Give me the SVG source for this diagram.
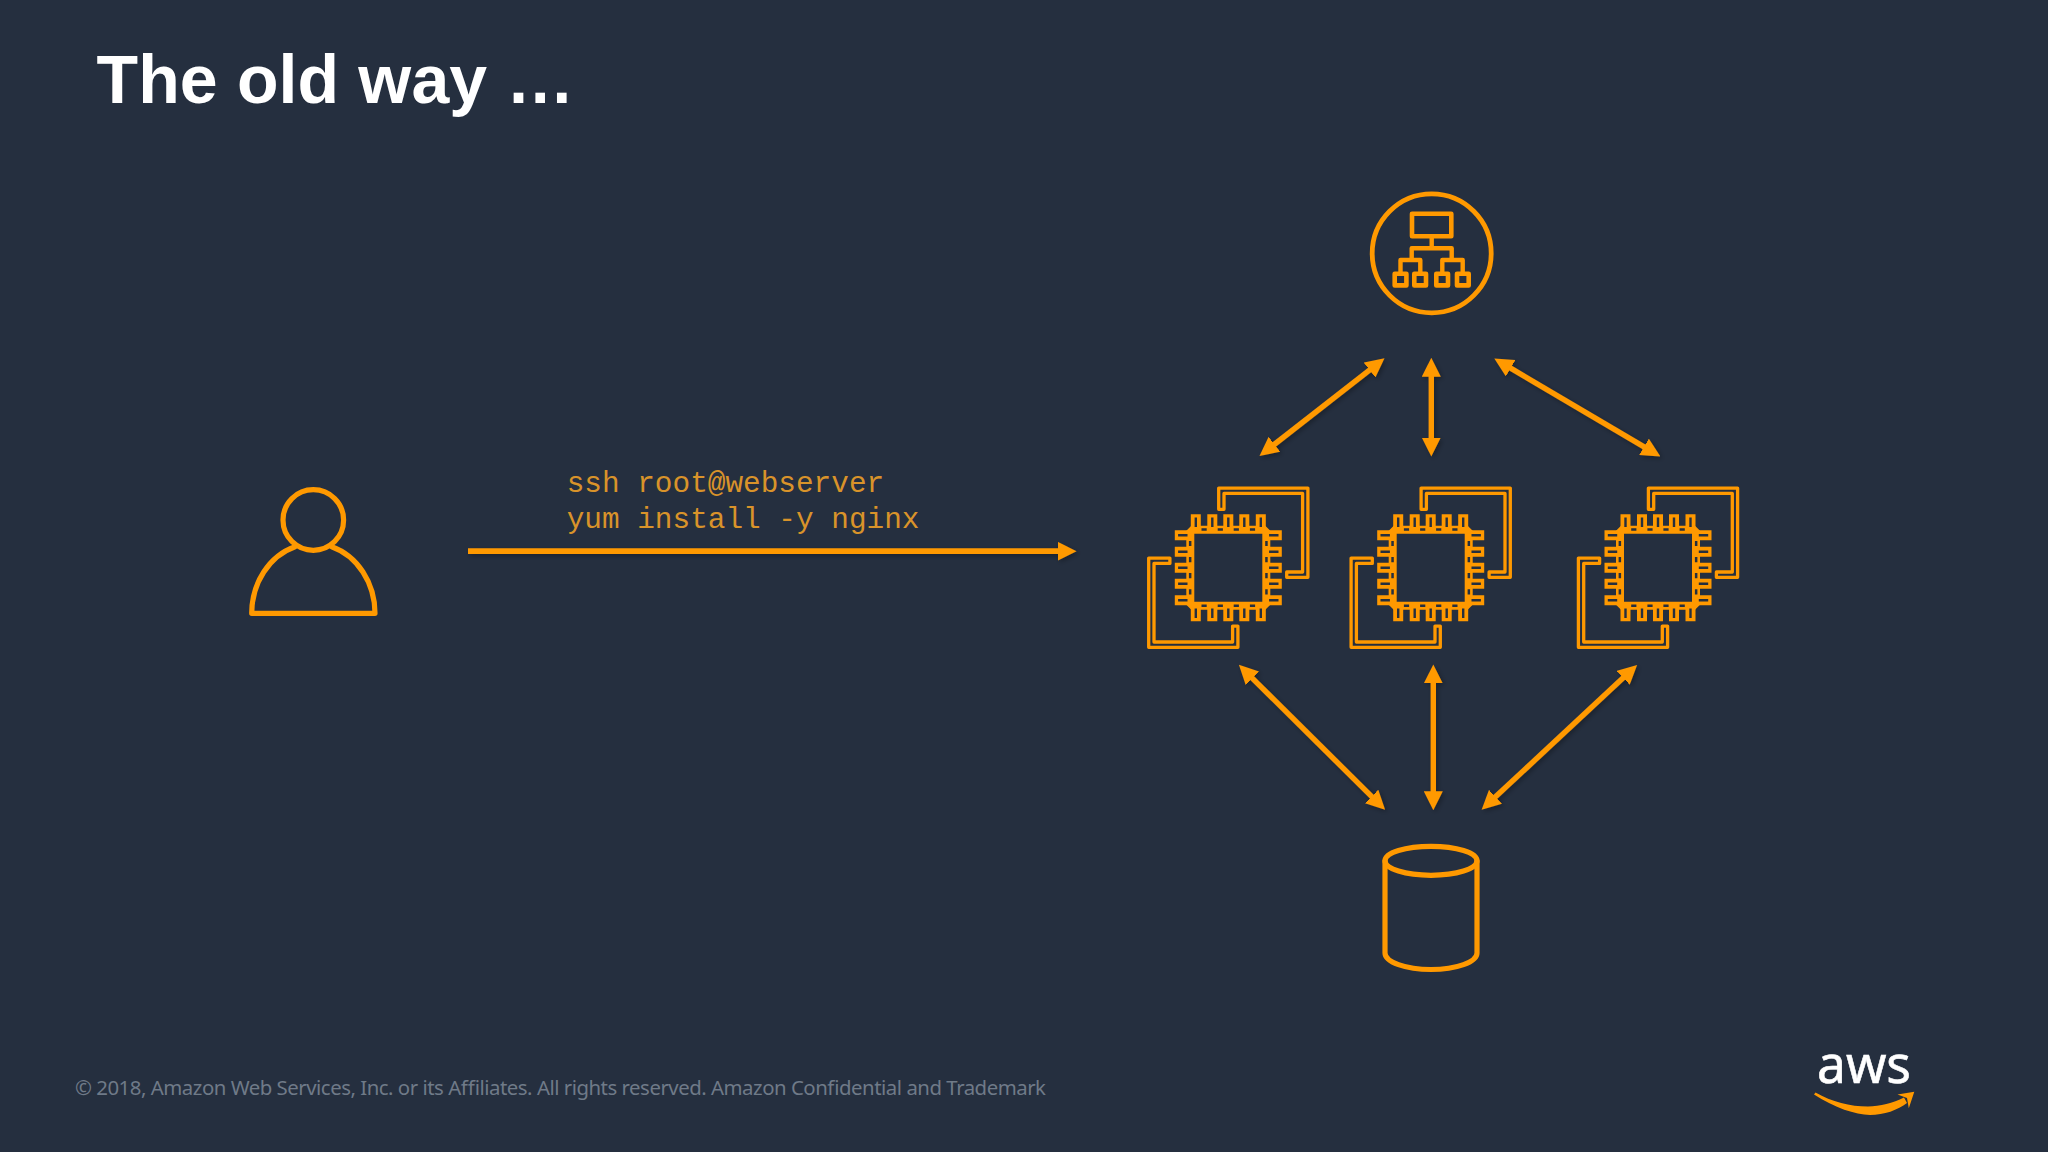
<svg xmlns="http://www.w3.org/2000/svg" width="2048" height="1152" viewBox="0 0 2048 1152">
  <style>
    .ln { fill: none; stroke: #ff9900; stroke-linejoin: round; stroke-linecap: round; }
    .or { fill: #ff9900; }
    .bg { fill: #252f3f; }
    .conn line { stroke: #ff9900; stroke-width: 5.4; marker-start: url(#head); marker-end: url(#head); }
    .code { font-family: "Liberation Mono", monospace; font-size: 29.4px; fill: #d9932a; }
  </style>
  <defs>
    <marker id="head" markerUnits="userSpaceOnUse" viewBox="0 0 18 18" markerWidth="19" markerHeight="19" refX="8" refY="9" orient="auto-start-reverse">
      <path d="M0 0L18 9L0 18Z" fill="#ff9900"/>
    </marker>
    <marker id="headEnd" markerUnits="userSpaceOnUse" viewBox="0 0 18 18" markerWidth="19" markerHeight="19" refX="8" refY="9" orient="auto">
      <path d="M0 0L18 9L0 18Z" fill="#ff9900"/>
    </marker>
    <filter id="shadow" x="-10%" y="-10%" width="120%" height="120%">
      <feDropShadow dx="2" dy="2" stdDeviation="2.5" flood-color="#000" flood-opacity="0.3"/>
    </filter>
    <g id="pins">
      <path class="or" d="M-37.5 -53.5h10v13.5h-10zM-21 -53.5h10v13.5h-10zM-5 -53.5h10v13.5h-10zM11 -53.5h10v13.5h-10zM27.5 -53.5h10v13.5h-10z"/>
      <path class="bg" d="M-33.7 -50.2h2.4v9.4h-2.4zM-17.2 -50.2h2.4v9.4h-2.4zM-1.2 -50.2h2.4v9.4h-2.4zM14.8 -50.2h2.4v9.4h-2.4zM31.3 -50.2h2.4v9.4h-2.4z"/>
      <path class="bg" d="M-26.8 -39.4h5.2v2.5h-5.2zM-10.6 -39.4h5.2v2.5h-5.2zM5.4 -39.4h5.2v2.5h-5.2zM21.6 -39.4h5.2v2.5h-5.2z"/>
    </g>
    <g id="ec2">
      <path class="or" fill-rule="evenodd" d="M-37 -42H37L42 -37V37L37 42H-37L-42 37V-37ZM-34 -34V34H34V-34Z"/>
      <use href="#pins"/>
      <use href="#pins" transform="rotate(90)"/>
      <use href="#pins" transform="rotate(180)"/>
      <use href="#pins" transform="rotate(270)"/>
      <path class="ln" stroke-width="3.3" d="M-9.6 -58.4V-79.6H79.6V9.6H58.4V4.3H74.3V-74.3H-4.3V-58.4Z"/>
      <path class="ln" stroke-width="3.3" transform="rotate(180)" d="M-9.6 -58.4V-79.6H79.6V9.6H58.4V4.3H74.3V-74.3H-4.3V-58.4Z"/>
    </g>
  </defs>

  <rect id="background" width="2048" height="1152" fill="#252f3f"/>

  <text id="title" x="96.5" y="102.7" font-family="'Liberation Sans', Arial, sans-serif" font-weight="700" font-size="68" letter-spacing="0.15" fill="#ffffff">The old way …</text>

  <g id="person">
    <circle class="ln" stroke-width="5.2" cx="313.3" cy="520" r="30.3"/>
    <path class="ln" stroke-width="5.2" d="M295 546.7A61.7 70 0 0 0 251.7 613.3H375A61.7 70 0 0 0 331.7 546.7"/>
  </g>

  <g id="commands">
    <text class="code" x="566.7" y="492.3">ssh root@webserver</text>
    <text class="code" x="566.7" y="527.7">yum install -y nginx</text>
  </g>

  <g id="load-balancer">
    <circle class="ln" stroke-width="4.8" cx="1431.7" cy="253.3" r="59.5"/>
    <rect class="ln" stroke-width="4.6" x="1412" y="213.7" width="39.3" height="22.6"/>
    <path class="ln" stroke-width="4.4" d="M1431.7 238V248.3M1411.7 260V248.3H1451.7V260M1400.5 271.7V260H1420.3V271.7M1442.3 271.7V260H1462.7V271.7"/>
    <rect class="ln" stroke-width="4.6" x="1394.7" y="273.7" width="11.7" height="11.7"/>
    <rect class="ln" stroke-width="4.6" x="1414.3" y="273.7" width="11.7" height="11.7"/>
    <rect class="ln" stroke-width="4.6" x="1436.3" y="273.7" width="11.7" height="11.7"/>
    <rect class="ln" stroke-width="4.6" x="1457" y="273.7" width="11.7" height="11.7"/>
  </g>

  <g id="ec2-1" transform="translate(1228.3 567.7)"><use href="#ec2"/></g>
  <g id="ec2-2" transform="translate(1430.7 567.7)"><use href="#ec2"/></g>
  <g id="ec2-3" transform="translate(1658 567.7)"><use href="#ec2"/></g>

  <g id="database">
    <ellipse class="ln" stroke-width="5.2" cx="1431" cy="860.8" rx="46" ry="14.5"/>
    <path class="ln" stroke-width="5.2" d="M1385 861V953A46 16.5 0 0 0 1477 953V861"/>
  </g>

  <g id="connectors" class="conn" filter="url(#shadow)">
    <line x1="1267.8" y1="449.5" x2="1376.2" y2="364.8"/>
    <line x1="1431.3" y1="368.3" x2="1431.3" y2="446"/>
    <line x1="1503.4" y1="363.9" x2="1651.3" y2="451.1"/>
    <line x1="1246.4" y1="672.3" x2="1377.6" y2="802.4"/>
    <line x1="1433.3" y1="675" x2="1433.3" y2="799.7"/>
    <line x1="1629.4" y1="672.1" x2="1489.3" y2="802.6"/>
    <line x1="468" y1="551.2" x2="1066" y2="551.2" style="stroke-width:5.7;marker-start:none;marker-end:url(#headEnd)"/>
  </g>

  <text id="footer" x="75" y="1095" font-family="'Noto Sans', 'Open Sans', sans-serif" font-size="20.4" fill="#6f7a88" textLength="971" lengthAdjust="spacing">© 2018, Amazon Web Services, Inc. or its Affiliates. All rights reserved. Amazon Confidential and Trademark</text>

  <g id="aws-logo">
    <text x="1817" y="1083.3" font-family="'Noto Sans', 'Open Sans', sans-serif" font-size="52" fill="#ffffff" stroke="#ffffff" stroke-width="0.6" textLength="94" lengthAdjust="spacingAndGlyphs">aws</text>
    <path class="or" d="M1814 1094.5C1835 1108 1855 1114.5 1870 1115C1884 1115 1898 1110 1907 1103L1904 1097.5C1893 1103 1880 1106.5 1868 1106.5C1850 1106.5 1832 1102 1815.5 1092.5Z"/>
    <path class="or" d="M1897.5 1094.5L1914.3 1091.7L1908.8 1108.3L1907 1098Z"/>
  </g>
</svg>
